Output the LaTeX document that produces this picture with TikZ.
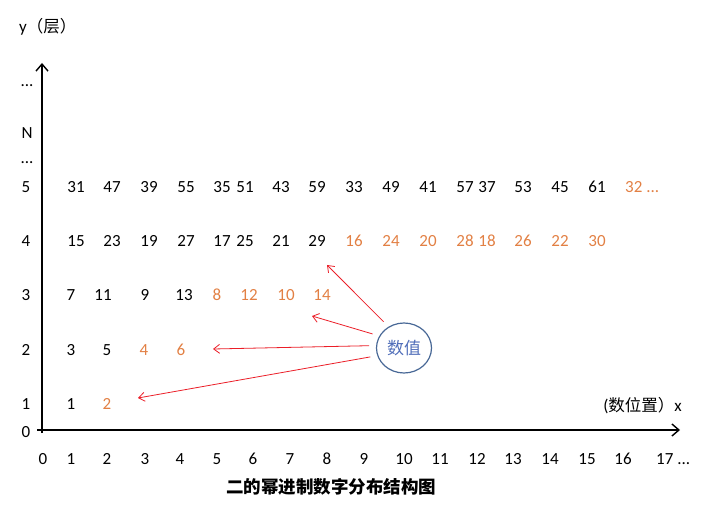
\documentclass[tikz,border=0pt]{standalone}
\usepackage{fontspec}
\setmainfont{Carlito}
\newfontfamily\cjk{Noto Sans CJK SC}
\usetikzlibrary{arrows.meta,shapes.geometric}
\definecolor{orng}{RGB}{226,128,68}
\definecolor{cblue}{RGB}{72,104,150}
\definecolor{tblue}{RGB}{80,110,185}
\definecolor{ared}{RGB}{235,30,40}
\tikzset{
  num/.style={inner sep=0pt,font=\fontsize{17}{18}\selectfont,text=black,text height=0.63em,text depth=0pt,yshift=-1.5pt},
  onum/.style={num,text=orng},
  axis/.style={line width=1.6pt,-{Straight Barb[length=7pt,width=12pt,line width=1.4pt]}},
  callout/.style={ared,line width=0.8pt,shorten <=7pt,-{Straight Barb[length=6pt,width=9pt,line width=0.8pt]}},
  bubble/.style={ellipse,draw=cblue,line width=1.2pt,minimum width=55pt,minimum height=50pt,inner sep=0pt,text=tblue,font=\cjk\fontsize{17}{17}\selectfont},
  cjklab/.style={inner sep=0pt,font=\cjk\fontsize{16.5}{17}\selectfont},
}
\begin{document}
\begin{tikzpicture}[x=1pt,y=-1pt]
\useasboundingbox (0,0) rectangle (719,510);
% axes
\coordinate (xend) at (680,430);
\coordinate (yend) at (42,63);
\coordinate (xstart) at (37,430);
\coordinate (ystart) at (42,433);
\draw[axis] (xstart) -- (xend);
\draw[axis] (ystart) -- (yend);
% axis titles
\node[cjklab,anchor=west] (ylab) at (19,27) {{\fontspec{Carlito}\fontsize{17}{17}\selectfont y}（层）};
\node[cjklab,anchor=east] (xlab) at (682,406) {{\fontspec{Carlito}\fontsize{17}{17}\selectfont(}数位置）{\fontspec{Carlito}\fontsize{17}{17}\selectfont x}};
% y labels
\node[num] (ydots1) at (27,82) {...};
\node[num] (yN) at (27,134) {N};
\node[num] (ydots2) at (27,159) {...};
\node[num] (y5) at (26,188) {5};
\node[num] (y4) at (26,242) {4};
\node[num] (y3) at (26,296) {3};
\node[num] (y2) at (26,351) {2};
\node[num] (y1) at (26,405) {1};
\node[num] (y0) at (26,433) {0};
% x labels
\foreach \xv/\t/\nm in {43/0/a,71/1/b,107/2/c,145/3/d,180/4/e,217/5/f,253/6/g,290/7/h,327/8/i,364/9/j,404/10/k,440/11/l,477/12/m,513/13/n,550/14/o,587/15/p,623/16/q}
  \node[num] (x\nm) at (\xv,460) {\t};
\node[num,anchor=west] (xr) at (656,460) {17 ...};
% row 5
\foreach \xv/\t/\nm in {76/31/a,112/47/b,149/39/c,186/55/d,222/35/e,245/51/f,281/43/g,317/59/h,354/33/i,391/49/j,428/41/k,465/57/l,487/37/m,523/53/n,560/45/o,597/61/p}
  \node[num] (r5\nm) at (\xv,188) {\t};
\node[onum,anchor=west] (r5q) at (625,188) {32 ...};
% row 4
\foreach \xv/\t/\nm in {76/15/a,112/23/b,149/19/c,186/27/d,222/17/e,245/25/f,281/21/g,317/29/h}
  \node[num] (r4\nm) at (\xv,242) {\t};
\foreach \xv/\t/\nm in {354/16/i,391/24/j,428/20/k,465/28/l,487/18/m,523/26/n,560/22/o,597/30/p}
  \node[onum] (r4\nm) at (\xv,242) {\t};
% row 3
\foreach \xv/\t/\nm in {71/7/a,103/11/b,145/9/c,184/13/d}
  \node[num] (r3\nm) at (\xv,296) {\t};
\foreach \xv/\t/\nm in {217/8/e,249/12/f,286/10/g,322/14/h}
  \node[onum] (r3\nm) at (\xv,296) {\t};
% row 2
\node[num] (r2a) at (71,351) {3};
\node[num] (r2b) at (107,351) {5};
\node[onum] (r2c) at (144,351) {4};
\node[onum] (r2d) at (181,351) {6};
% row 1
\node[num] (r1a) at (71,405) {1};
\node[onum] (r1b) at (107,405) {2};
% bubble
\node[bubble] (c) at (404,348) {数值};
\coordinate (t1) at (327,265);
\coordinate (t2) at (312,316);
\coordinate (t3) at (213,349);
\coordinate (t4) at (138,398);
\draw[callout] (c.126) -- (t1);
\draw[callout] (c.154) -- (t2);
\draw[callout] (c.175) -- (t3);
\draw[callout] (c.196) -- (t4);
% title
\node[inner sep=0pt,font=\cjk\bfseries\fontsize{17.5}{18}\selectfont] (title) at (331,487) {二的幂进制数字分布结构图};
\end{tikzpicture}
\end{document}
